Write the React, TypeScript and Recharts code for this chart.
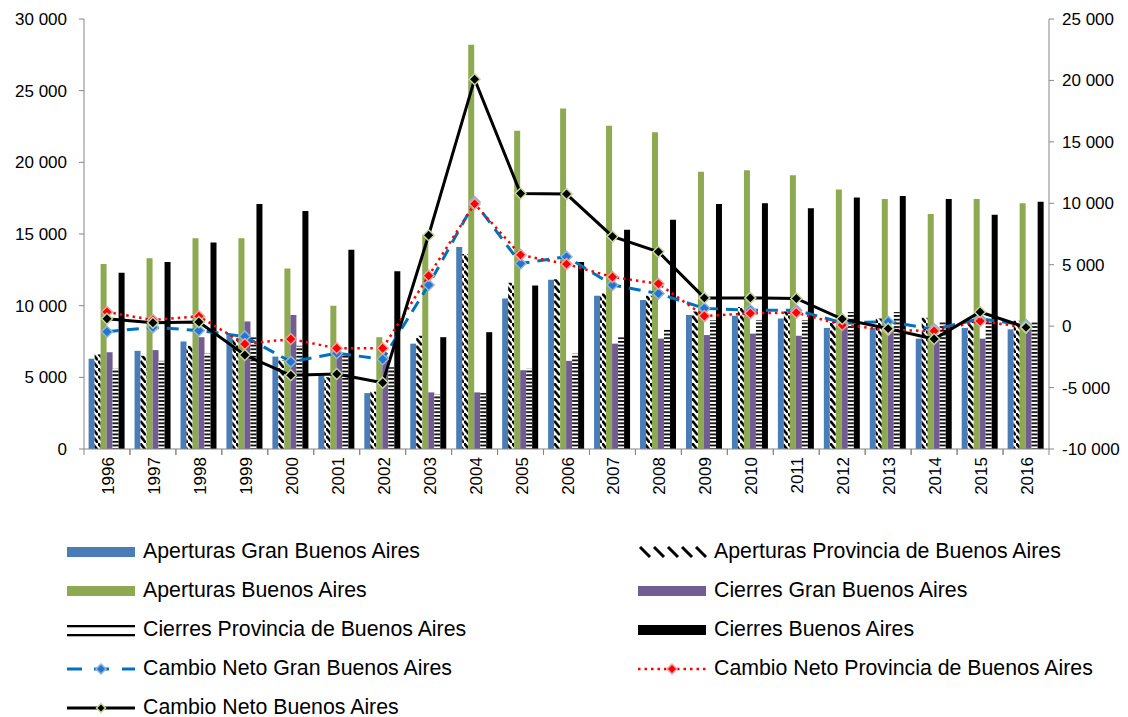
import { ComposedChart, Bar, Line, XAxis, YAxis, Legend } from "recharts";

const YEARS = [
  "1996", "1997", "1998", "1999", "2000", "2001", "2002", "2003", "2004", "2005", "2006",
  "2007", "2008", "2009", "2010", "2011", "2012", "2013", "2014", "2015", "2016",
];

// bars (left axis)
const APERTURAS_GBA = [6300, 6850, 7500, 7900, 6450, 5100, 3900, 7350, 14100, 10500, 11800, 10700, 10400, 9350, 9300, 9100, 8450, 8450, 7700, 8450, 8350];
const APERTURAS_PROV = [6600, 6500, 7200, 7700, 6200, 5000, 4000, 7900, 13600, 11600, 11850, 10850, 10700, 9600, 9900, 9600, 8950, 9100, 9150, 9000, 8950];
const APERTURAS_BA = [12900, 13300, 14700, 14700, 12600, 10000, 7800, 14950, 28200, 22200, 23750, 22550, 22100, 19350, 19450, 19100, 18100, 17450, 16400, 17450, 17150];
const CIERRES_GBA = [6750, 6900, 7800, 8900, 9350, 6550, 6450, 3950, 3950, 5500, 6150, 7350, 7700, 7950, 8050, 7900, 8500, 8500, 7950, 7700, 8550];
const CIERRES_PROV = [5600, 6150, 6650, 7800, 7200, 6600, 5700, 3800, 3900, 5600, 6650, 7800, 8350, 9000, 9000, 9000, 9550, 9550, 8850, 8850, 8850];
const CIERRES_BA = [12300, 13050, 14400, 17100, 16600, 13900, 12400, 7800, 8150, 11400, 13050, 15300, 16000, 17100, 17150, 16800, 17550, 17650, 17450, 16350, 17250];

// lines (right axis)
const NETO_GBA = [-450, -100, -350, -850, -2900, -2200, -2700, 3350, 10100, 5100, 5650, 3350, 2650, 1450, 1300, 1300, 280, 360, -260, 600, 90];
const NETO_PROV = [1150, 500, 800, -1450, -1050, -1800, -1800, 4100, 9950, 5800, 5050, 4000, 3450, 820, 1050, 1100, 100, -300, -400, 420, -100];
const NETO_BA = [600, 280, 330, -2350, -4000, -3900, -4600, 7400, 20100, 10800, 10750, 7300, 6050, 2300, 2300, 2250, 580, -200, -1050, 1150, -100];

const LEFT_TICKS = [0, 5000, 10000, 15000, 20000, 25000, 30000];
const RIGHT_TICKS = [-10000, -5000, 0, 5000, 10000, 15000, 20000, 25000];

const FONT = '"Liberation Sans", Arial, sans-serif';
const AXIS = "#868686";
const BLUE = "#4A7DB8";
const GREEN = "#8DA952";
const PURPLE = "#725D93";

const data = YEARS.map((year, i) => ({
  year,
  apGBA: APERTURAS_GBA[i],
  apProv: APERTURAS_PROV[i],
  apBA: APERTURAS_BA[i],
  ciGBA: CIERRES_GBA[i],
  ciProv: CIERRES_PROV[i],
  ciBA: CIERRES_BA[i],
  netGBA: NETO_GBA[i],
  netProv: NETO_PROV[i],
  netBA: NETO_BA[i],
}));

const fmt = (v: number) => {
  const s = String(Math.abs(v)).replace(/\B(?=(\d{3})+(?!\d))/g, " ");
  return v < 0 ? "-" + s : s;
};

const YearTick = (props: any) => {
  const { x, y, payload } = props;
  const half = payload?.offset || 23;
  return (
    <g>
      <line x1={x - half} y1={y} x2={x - half} y2={y + 6} stroke={AXIS} />
      <line x1={x + half} y1={y} x2={x + half} y2={y + 6} stroke={AXIS} />
      <text
        x={x + 7}
        y={y + 8}
        transform={`rotate(-90 ${x + 7} ${y + 8})`}
        textAnchor="end"
        fontSize={17}
        fontFamily={FONT}
        fill="#000"
      >
        {payload.value}
      </text>
    </g>
  );
};

const diamond = (fill: string, stroke: string, r: number) => (props: any) => {
  const { cx, cy, index } = props;
  if (cx == null || cy == null) return <g key={`e-${index}`} />;
  return (
    <polygon
      key={`d-${index}`}
      points={`${cx},${cy - r} ${cx + r},${cy} ${cx},${cy + r} ${cx - r},${cy}`}
      fill={fill}
      stroke={stroke}
      strokeWidth={1.5}
    />
  );
};

const Patterns = () => (
  <defs>
    <pattern id="hatch" patternUnits="userSpaceOnUse" width="6" height="7.5">
      <rect width="6" height="7.5" fill="#fff" />
      <path d="M-1,-1.2 L7,8.7" stroke="#000" strokeWidth="2.7" />
    </pattern>
    <pattern id="stripes" patternUnits="userSpaceOnUse" width="6" height="3.7">
      <rect width="6" height="3.7" fill="#fff" />
      <rect y="0" width="6" height="1.7" fill="#000" />
    </pattern>
  </defs>
);

type LegendItem = { label: string; kind: string };
const LEGEND_ITEMS: LegendItem[] = [
  { label: "Aperturas Gran Buenos Aires", kind: "blue" },
  { label: "Aperturas Provincia de Buenos Aires", kind: "hatch" },
  { label: "Aperturas Buenos Aires", kind: "green" },
  { label: "Cierres Gran Buenos Aires", kind: "purple" },
  { label: "Cierres Provincia de Buenos Aires", kind: "stripes" },
  { label: "Cierres Buenos Aires", kind: "black" },
  { label: "Cambio Neto Gran Buenos Aires", kind: "lineGBA" },
  { label: "Cambio Neto Provincia de Buenos Aires", kind: "lineProv" },
  { label: "Cambio Neto Buenos Aires", kind: "lineBA" },
];

const LegendSymbol = ({ kind }: { kind: string }) => {
  const solid: Record<string, string> = { blue: BLUE, green: GREEN, purple: PURPLE, black: "#000" };
  let body: any = null;
  if (solid[kind]) body = <rect x={0} y={5} width={68} height={10} fill={solid[kind]} />;
  if (kind === "hatch") {
    body = (
      <g>
        {[0, 1, 2, 3, 4].map((i) => (
          <path key={i} d={`M${i * 14 + 2},5 L${i * 14 + 12},15`} stroke="#000" strokeWidth={3} />
        ))}
      </g>
    );
  }
  if (kind === "stripes") {
    body = (
      <g>
        <rect x={0} y={5} width={68} height={2.3} fill="#000" />
        <rect x={0} y={14} width={68} height={2.3} fill="#000" />
      </g>
    );
  }
  if (kind === "lineGBA") {
    body = (
      <g>
        <line x1={0} y1={10} x2={15} y2={10} stroke="#0070C0" strokeWidth={3} />
        <line x1={27} y1={10} x2={42} y2={10} stroke="#0070C0" strokeWidth={3} />
        <line x1={55} y1={10} x2={68} y2={10} stroke="#0070C0" strokeWidth={3} />
        {diamond("#1F77D0", "#95B3D7", 5)({ cx: 34, cy: 10, index: 0 })}
      </g>
    );
  }
  if (kind === "lineProv") {
    body = (
      <g>
        <line x1={0} y1={10} x2={68} y2={10} stroke="#FF0000" strokeWidth={2.5} strokeDasharray="2.5 4" />
        {diamond("#FF0000", "#E6A5A5", 5)({ cx: 34, cy: 10, index: 0 })}
      </g>
    );
  }
  if (kind === "lineBA") {
    body = (
      <g>
        <line x1={0} y1={10} x2={68} y2={10} stroke="#000" strokeWidth={3} />
        {diamond("#000", "#C3D69B", 4.5)({ cx: 34, cy: 10, index: 0 })}
      </g>
    );
  }
  return (
    <svg width={68} height={20} style={{ display: "block", overflow: "visible" }}>
      {body}
    </svg>
  );
};

const CustomLegend = () => (
  <div style={{ position: "relative", width: 1112, height: 190, fontFamily: FONT, fontSize: 21.3, color: "#000" }}>
    {LEGEND_ITEMS.map((item, i) => {
      const col = i % 2;
      const row = Math.floor(i / 2);
      return (
        <div
          key={item.label}
          style={{
            position: "absolute",
            left: col ? 630 : 59,
            top: 5 + row * 39,
            height: 39,
            display: "flex",
            alignItems: "center",
            whiteSpace: "nowrap",
          }}
        >
          <LegendSymbol kind={item.kind} />
          <span style={{ marginLeft: 8 }}>{item.label}</span>
        </div>
      );
    })}
  </div>
);

export default function App() {
  const tickStyle = { fontSize: 17, fontFamily: FONT, fill: "#000" };
  return (
    <div style={{ width: 1112, height: 709 }}>
      <ComposedChart
        width={1112}
        height={709}
        data={data}
        margin={{ top: 11, right: 0, bottom: 0, left: 0 }}
        barCategoryGap="10%"
        barGap={0}
      >
        <Patterns />
        <XAxis
          dataKey="year"
          interval={0}
          height={78}
          tickSize={0}
          tickMargin={0}
          tickLine={false}
          axisLine={{ stroke: AXIS }}
          tick={<YearTick />}
        />
        <YAxis
          yAxisId="left"
          width={76}
          domain={[0, 30000]}
          ticks={LEFT_TICKS}
          tickFormatter={fmt}
          tick={tickStyle}
          tickSize={5}
          tickMargin={12}
          axisLine={{ stroke: AXIS }}
          tickLine={{ stroke: AXIS }}
          allowDataOverflow
        />
        <YAxis
          yAxisId="right"
          orientation="right"
          width={71}
          domain={[-10000, 25000]}
          ticks={RIGHT_TICKS}
          tickFormatter={fmt}
          tick={tickStyle}
          tickSize={5}
          tickMargin={8}
          axisLine={{ stroke: AXIS }}
          tickLine={{ stroke: AXIS }}
          allowDataOverflow
        />
        <Legend
          verticalAlign="bottom"
          align="left"
          content={<CustomLegend />}
          wrapperStyle={{ left: 0, width: 1112, height: 190 }}
        />
        <Bar yAxisId="left" dataKey="apGBA" fill={BLUE} isAnimationActive={false} />
        <Bar yAxisId="left" dataKey="apProv" fill="url(#hatch)" isAnimationActive={false} />
        <Bar yAxisId="left" dataKey="apBA" fill={GREEN} isAnimationActive={false} />
        <Bar yAxisId="left" dataKey="ciGBA" fill={PURPLE} isAnimationActive={false} />
        <Bar yAxisId="left" dataKey="ciProv" fill="url(#stripes)" isAnimationActive={false} />
        <Bar yAxisId="left" dataKey="ciBA" fill="#000" isAnimationActive={false} />
        <Line
          yAxisId="right"
          dataKey="netGBA"
          type="linear"
          stroke="#0070C0"
          strokeWidth={3}
          strokeDasharray="12 8"
          dot={diamond("#1F77D0", "#95B3D7", 5.5)}
          activeDot={false}
          isAnimationActive={false}
        />
        <Line
          yAxisId="right"
          dataKey="netProv"
          type="linear"
          stroke="#FF0000"
          strokeWidth={2.5}
          strokeDasharray="2.5 4"
          dot={diamond("#FF0000", "#E6A5A5", 5.5)}
          activeDot={false}
          isAnimationActive={false}
        />
        <Line
          yAxisId="right"
          dataKey="netBA"
          type="linear"
          stroke="#000"
          strokeWidth={3}
          dot={diamond("#000", "#C3D69B", 5.5)}
          activeDot={false}
          isAnimationActive={false}
        />
      </ComposedChart>
    </div>
  );
}
